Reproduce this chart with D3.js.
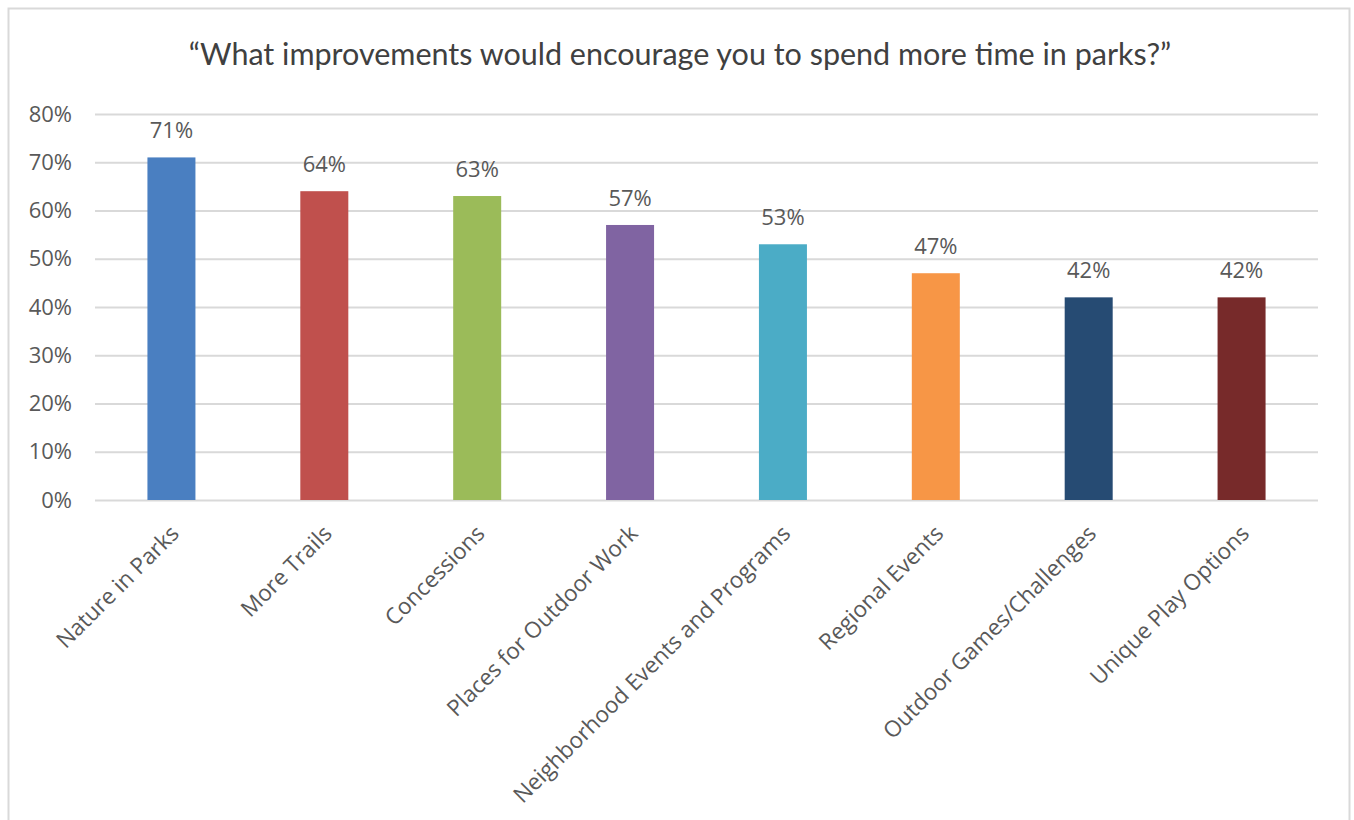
<!DOCTYPE html>
<html><head><meta charset="utf-8">
<script src="https://cdn.jsdelivr.net/npm/d3@7"></script>
<style>body{margin:0;background:#fff}svg{display:block}</style>
</head><body>
<svg id="c" width="1354" height="820"></svg>
<script>
const categories = ["Nature in Parks","More Trails","Concessions","Places for Outdoor Work","Neighborhood Events and Programs","Regional Events","Outdoor Games/Challenges","Unique Play Options"];
const values = [71,64,63,57,53,47,42,42];
const colors = ["#4A7FC1","#C0504D","#9BBB59","#8064A2","#4BACC6","#F79646","#264B73","#772A2A"];
const yTicks = [0,10,20,30,40,50,60,70,80];
const title = "\u201CWhat improvements would encourage you to spend more time in parks?\u201D";

const svg = d3.select("#c");
svg.append("rect").attr("x",8.5).attr("y",8.5).attr("width",1341).attr("height",830)
  .attr("fill","#fff").attr("stroke","#d9d9d9").attr("stroke-width",2);

const pLeft=95, pRight=1318, pTop=114, pBottom=500;
const x = d3.scaleBand().domain(categories).range([pLeft,pRight]).paddingInner(0.686).paddingOuter(0.343);
const y = d3.scaleLinear().domain([0,80]).range([pBottom,pTop]);

svg.append("text").attr("x",680).attr("y",65).attr("text-anchor","middle")
  .attr("font-family","Lato, 'Open Sans', sans-serif").attr("font-size",30.5).attr("fill","#404040").text(title);

const yAxis = svg.append("g").attr("transform",`translate(${pLeft},0)`)
  .call(d3.axisLeft(y).tickValues(yTicks).tickSize(-(pRight-pLeft)).tickFormat(d=>d+"%"));
yAxis.select(".domain").remove();
yAxis.selectAll("line").attr("stroke","#d9d9d9").attr("stroke-width",2);
yAxis.selectAll("text").attr("x",-23).attr("font-family","'Open Sans', sans-serif").attr("font-size",22).attr("fill","#595959");

svg.selectAll("rect.bar").data(values).enter().append("rect").attr("class","bar")
  .attr("x",(d,i)=>x(categories[i])).attr("width",x.bandwidth())
  .attr("y",d=>y(d)).attr("height",d=>pBottom-y(d)).attr("fill",(d,i)=>colors[i]);

svg.selectAll("text.lbl").data(values).enter().append("text").attr("class","lbl")
  .attr("x",(d,i)=>x(categories[i])+x.bandwidth()/2).attr("y",d=>y(d)-19)
  .attr("text-anchor","middle").attr("font-family","'Open Sans', sans-serif").attr("font-size",22)
  .attr("fill","#595959").text(d=>d+"%");

const xAxis = svg.append("g").attr("transform",`translate(0,${pBottom})`)
  .call(d3.axisBottom(x).tickSize(0));
xAxis.select(".domain").remove();
xAxis.selectAll("text").attr("font-family","'Open Sans', sans-serif").attr("font-size",22.5).attr("fill","#595959")
  .attr("text-anchor","end").attr("dy",0).attr("y",0)
  .attr("transform","translate(9,35) rotate(-45)");
</script>
</body></html>
